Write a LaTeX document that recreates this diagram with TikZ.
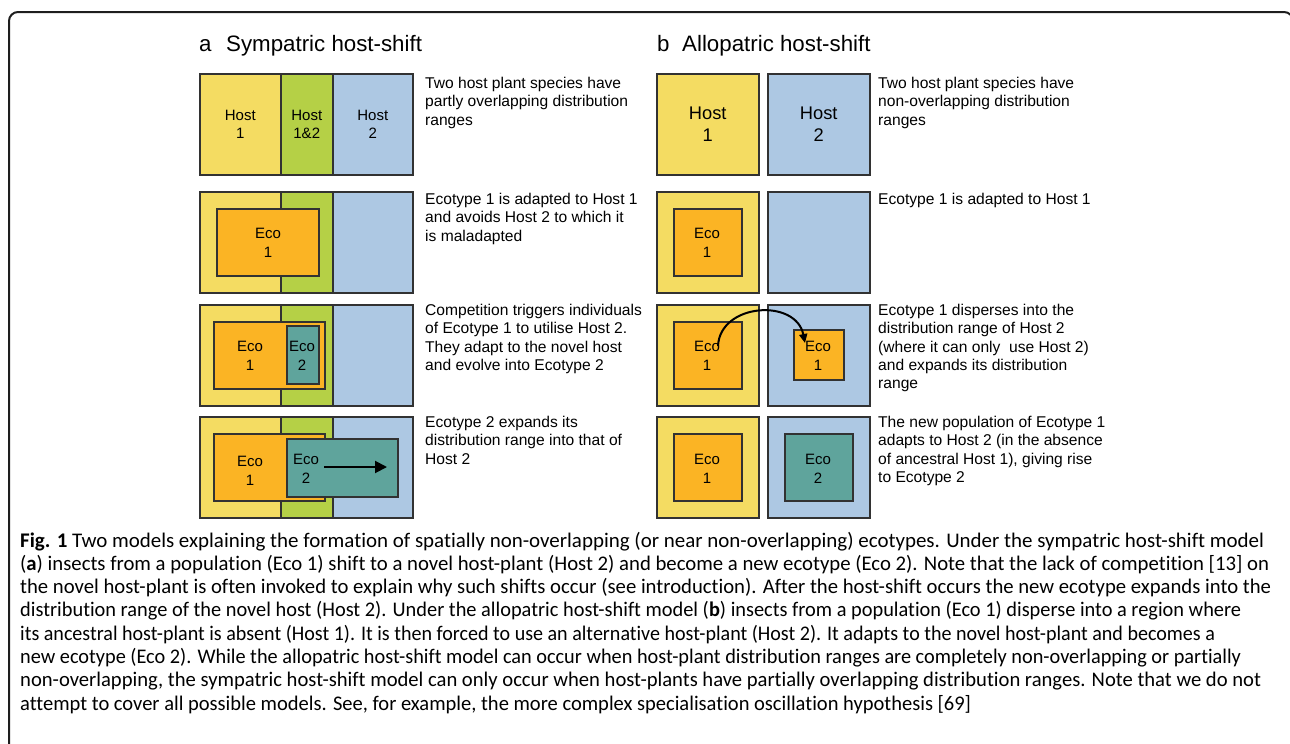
\documentclass[tikz,border=0pt]{standalone}
\usepackage{fontspec}
\usepackage{graphicx}
\setmainfont{Liberation Sans}
\newfontfamily\capfont[Ligatures=CommonOff]{Carlito}
\usetikzlibrary{arrows.meta}

\definecolor{hostone}{RGB}{244,220,98}
\definecolor{hostboth}{RGB}{181,208,70}
\definecolor{hosttwo}{RGB}{173,200,227}
\definecolor{ecoone}{RGB}{251,180,36}
\definecolor{ecotwo}{RGB}{95,164,156}
\definecolor{edge}{RGB}{50,50,50}
\definecolor{framecol}{RGB}{30,30,30}

% set one caption line to a given width by a slight horizontal scaling
\newsavebox\caplinebox
\newcommand\fitline[2]{%
  \sbox\caplinebox{#2}%
  \pgfmathsetmacro\capfac{#1/\the\wd\caplinebox}%
  \scalebox{\capfac}[1]{\usebox\caplinebox}}

\begin{document}
\begin{tikzpicture}[x=1pt,y=-1pt,
  cell/.style={draw=edge, line width=1.5pt, inner sep=0pt, anchor=north west},
  hostlbl/.style={align=center, font=\fontsize{15}{18}\selectfont},
  hostlblb/.style={align=center, font=\fontsize{18.3}{22}\selectfont},
  ecolbl/.style={align=center, inner sep=0pt, font=\fontsize{15}{19}\selectfont},
  desc/.style={anchor=north west, inner sep=0pt, align=left, font=\fontsize{15.6}{18.3}\selectfont},
  ttl/.style={anchor=base west, inner sep=0pt, font=\fontsize{22.3}{26}\selectfont},
  capline/.style={anchor=base west, inner sep=0pt, font=\capfont\fontsize{20.8}{23.3}\selectfont},
  flow/.style={line width=2pt, draw=black, -{Triangle[length=12pt,width=12pt]}},
  hop/.style={line width=2pt, draw=black, -{Triangle[length=9pt,width=8pt]}}]

\useasboundingbox (0,0) rectangle (1290,744);

% outer frame, open at the bottom
\draw[framecol, line width=2pt, rounded corners=9pt] (9,760) -- (9,12) -- (1293,12) -- (1293,760);

% ---------------- panel a: sympatric host-shift ----------------
\node[ttl] (ta) at (199,51) {a};
\node[ttl] (tat) at (226,51) {Sympatric host-shift};

% row 1
\node[cell, fill=hostone, minimum width=81pt, minimum height=101pt, hostlbl] (a1h1) at (199,73) {Host\\1};
\node[cell, fill=hostboth, minimum width=52pt, minimum height=101pt, hostlbl] (a1h12) at (280,73) {Host\\1\&2};
\node[cell, fill=hosttwo, minimum width=80pt, minimum height=101pt, hostlbl] (a1h2) at (332,73) {Host\\2};
\node[desc] (a1d) at (425,77) {Two host plant species have\\partly overlapping distribution\\ranges};

% row 2
\node[cell, fill=hostone, minimum width=81pt, minimum height=101pt] (a2h1) at (199,191) {};
\node[cell, fill=hostboth, minimum width=52pt, minimum height=101pt] (a2h12) at (280,191) {};
\node[cell, fill=hosttwo, minimum width=80pt, minimum height=101pt] (a2h2) at (332,191) {};
\node[cell, fill=ecoone, minimum width=102pt, minimum height=67pt] (a2e1) at (216,208) {};
\node[ecolbl] (a2e1l) at (268,242.5) {Eco\\1};
\node[desc] (a2d) at (425,193) {Ecotype 1 is adapted to Host 1\\and avoids Host 2 to which it\\is maladapted};

% row 3
\node[cell, fill=hostone, minimum width=81pt, minimum height=101pt] (a3h1) at (199,304) {};
\node[cell, fill=hostboth, minimum width=52pt, minimum height=101pt] (a3h12) at (280,304) {};
\node[cell, fill=hosttwo, minimum width=80pt, minimum height=101pt] (a3h2) at (332,304) {};
\node[cell, fill=ecoone, minimum width=111pt, minimum height=67pt] (a3e1) at (213,321) {};
\node[cell, fill=ecotwo, minimum width=32pt, minimum height=58pt] (a3e2) at (286,325) {};
\node[ecolbl] (a3e1l) at (250,356) {Eco\\1};
\node[ecolbl] (a3e2l) at (302,356) {Eco\\2};
\node[desc] (a3d) at (425,304) {Competition triggers individuals\\of Ecotype 1 to utilise Host 2.\\They adapt to the novel host\\and evolve into Ecotype 2};

% row 4
\node[cell, fill=hostone, minimum width=81pt, minimum height=101pt] (a4h1) at (199,416) {};
\node[cell, fill=hostboth, minimum width=52pt, minimum height=101pt] (a4h12) at (280,416) {};
\node[cell, fill=hosttwo, minimum width=80pt, minimum height=101pt] (a4h2) at (332,416) {};
\node[cell, fill=ecoone, minimum width=111pt, minimum height=67pt] (a4e1) at (213,433) {};
\node[cell, fill=ecotwo, minimum width=111pt, minimum height=58pt] (a4e2) at (286,438) {};
\node[ecolbl] (a4e1l) at (250,471) {Eco\\1};
\node[ecolbl] (a4e2l) at (306,469) {Eco\\2};
\coordinate (a4s) at (324,467);
\coordinate (a4t) at (387,467);
\draw[flow] (a4s) -- (a4t);
\node[desc] (a4d) at (425,416) {Ecotype 2 expands its\\distribution range into that of\\Host 2};

% ---------------- panel b: allopatric host-shift ----------------
\node[ttl] (tb) at (657,51) {b};
\node[ttl] (tbt) at (682,51) {Allopatric host-shift};

% row 1
\node[cell, fill=hostone, minimum width=102pt, minimum height=101pt, hostlblb] (b1h1) at (656,73) {Host\\1};
\node[cell, fill=hosttwo, minimum width=102pt, minimum height=101pt, hostlblb] (b1h2) at (767,73) {Host\\2};
\node[desc] (b1d) at (878,77) {Two host plant species have\\non-overlapping distribution\\ranges};

% row 2
\node[cell, fill=hostone, minimum width=102pt, minimum height=101pt] (b2h1) at (656,191) {};
\node[cell, fill=hosttwo, minimum width=102pt, minimum height=101pt] (b2h2) at (767,191) {};
\node[cell, fill=ecoone, minimum width=68pt, minimum height=67pt] (b2e1) at (673,208) {};
\node[ecolbl] (b2e1l) at (707,242.5) {Eco\\1};
\node[desc] (b2d) at (878,193) {Ecotype 1 is adapted to Host 1};

% row 3
\node[cell, fill=hostone, minimum width=102pt, minimum height=101pt] (b3h1) at (656,304) {};
\node[cell, fill=hosttwo, minimum width=102pt, minimum height=101pt] (b3h2) at (767,304) {};
\node[cell, fill=ecoone, minimum width=68pt, minimum height=67pt] (b3e1) at (673,321) {};
\node[cell, fill=ecoone, minimum width=50pt, minimum height=50pt] (b3e1n) at (793,329) {};
\node[ecolbl] (b3e1l) at (707,356) {Eco\\1};
\node[ecolbl] (b3e1nl) at (818,356) {Eco\\1};
\coordinate (b3s) at (718,346);
\coordinate (b3t) at (805,343);
\draw[hop] (b3s) .. controls (720,303) and (796,298) .. (b3t);
\node[desc] (b3d) at (878,304) {Ecotype 1 disperses into the\\distribution range of Host 2\\(where it can only~ use Host 2)\\and expands its distribution\\range};

% row 4
\node[cell, fill=hostone, minimum width=102pt, minimum height=101pt] (b4h1) at (656,416) {};
\node[cell, fill=hosttwo, minimum width=102pt, minimum height=101pt] (b4h2) at (767,416) {};
\node[cell, fill=ecoone, minimum width=68pt, minimum height=67pt] (b4e1) at (673,433) {};
\node[cell, fill=ecotwo, minimum width=68pt, minimum height=67pt] (b4e2) at (784,433) {};
\node[ecolbl] (b4e1l) at (707,469) {Eco\\1};
\node[ecolbl] (b4e2l) at (818,469) {Eco\\2};
\node[desc] (b4d) at (878,416) {The new population of Ecotype 1\\adapts to Host 2 (in the absence\\of ancestral Host 1), giving rise\\to Ecotype 2};

% ---------------- caption, one node per printed line ----------------
\node[capline] (cap1) at (20,547) {\fitline{1244}{\textbf{Fig. 1} Two models explaining the formation of spatially non-overlapping (or near non-overlapping) ecotypes. Under the sympatric host-shift model}};
\node[capline] (cap2) at (20,570.3) {\fitline{1249}{(\textbf{a}) insects from a population (Eco 1) shift to a novel host-plant (Host 2) and become a new ecotype (Eco 2). Note that the lack of competition [13] on}};
\node[capline] (cap3) at (20,593.6) {\fitline{1251}{the novel host-plant is often invoked to explain why such shifts occur (see introduction). After the host-shift occurs the new ecotype expands into the}};
\node[capline] (cap4) at (20,616.9) {\fitline{1221}{distribution range of the novel host (Host 2). Under the allopatric host-shift model (\textbf{b}) insects from a population (Eco 1) disperse into a region where}};
\node[capline] (cap5) at (20,640.2) {\fitline{1195}{its ancestral host-plant is absent (Host 1). It is then forced to use an alternative host-plant (Host 2). It adapts to the novel host-plant and becomes a}};
\node[capline] (cap6) at (20,663.5) {\fitline{1221}{new ecotype (Eco 2). While the allopatric host-shift model can occur when host-plant distribution ranges are completely non-overlapping or partially}};
\node[capline] (cap7) at (20,686.8) {\fitline{1241}{non-overlapping, the sympatric host-shift model can only occur when host-plants have partially overlapping distribution ranges. Note that we do not}};
\node[capline] (cap8) at (20,710.1) {\fitline{951}{attempt to cover all possible models. See, for example, the more complex specialisation oscillation hypothesis [69]}};

\end{tikzpicture}
\end{document}
